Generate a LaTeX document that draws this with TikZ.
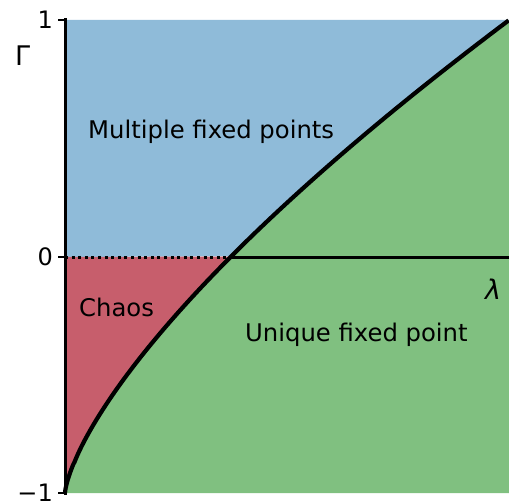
\documentclass[tikz,border=0pt]{standalone}
\usepackage{fontspec}
\setmainfont{DejaVu Sans}
\definecolor{mfblue}{RGB}{143,187,217}
\definecolor{chred}{RGB}{199,94,108}
\definecolor{ufgreen}{RGB}{128,192,128}
\tikzset{
  lbl/.style={inner sep=0pt, font=\fontsize{24.3}{28}\selectfont},
  axlbl/.style={inner sep=0pt, font=\fontsize{27}{30}\selectfont},
  ticklbl/.style={inner sep=0pt, anchor=east, font=\fontsize{24}{28}\selectfont},
  axisline/.style={line width=3pt, black},
  bound/.style={line width=4.2pt, black, line join=round},
}
\newcommand{\cx}[1]{65+444*0.374*(#1)^1.42}
\newcommand{\cy}[1]{493-236.5*(#1)}
\begin{document}
\begin{tikzpicture}[x=1pt,y=-1pt]
\useasboundingbox (0,0) rectangle (509,503);
% regions
\fill[mfblue] (65,20) -- (509,20) -- plot[domain=2:1,samples=60] ({\cx{\x}},{\cy{\x}}) -- (65,257) -- cycle;
\fill[chred] (65,257) -- plot[domain=1:0.0001,samples=80] ({\cx{\x}},{\cy{\x}}) -- (65,493) -- cycle;
\fill[ufgreen] (509,20) -- (509,493) -- (65,493) -- plot[domain=0.0001:2,samples=150] ({\cx{\x}},{\cy{\x}}) -- cycle;
% coordinates
\coordinate (top) at (65,20);
\coordinate (bot) at (65,493);
\coordinate (zl) at (65,257);
\coordinate (zc) at (231.5,257);
\coordinate (zr) at (509,257);
% axis lines
\draw[axisline, dash pattern=on 3pt off 3.6pt] (zl) -- (zc);
\draw[axisline] (zc) -- (zr);
\draw[bound] (65,493) -- plot[domain=0.0001:2,samples=200] ({\cx{\x}},{\cy{\x}});
\draw[axisline, line width=3pt] (65,18.5) -- (65,494.5);
\draw[line width=2pt] (58,20) -- (top);
\draw[line width=2pt] (58,257) -- (zl);
\draw[line width=2pt] (58,493) -- (bot);
% tick labels
\node[ticklbl] (t1) at (53,20) {1};
\node[ticklbl] (t0) at (53,257) {0};
\node[ticklbl] (tm) at (53,492.5) {−1};
% axis labels
\node[axlbl, anchor=base west] (gam) at (15,66) {Γ};
\node[axlbl, anchor=base west] (lam) at (485,299) {\itshape λ};
% region labels
\node[lbl, anchor=base west] (mfp) at (88,139) {Multiple fixed points};
\node[lbl, anchor=base west] (chaos) at (79,316) {Chaos};
\node[lbl, anchor=base west] (ufp) at (245,341) {Unique fixed point};
\end{tikzpicture}
\end{document}
